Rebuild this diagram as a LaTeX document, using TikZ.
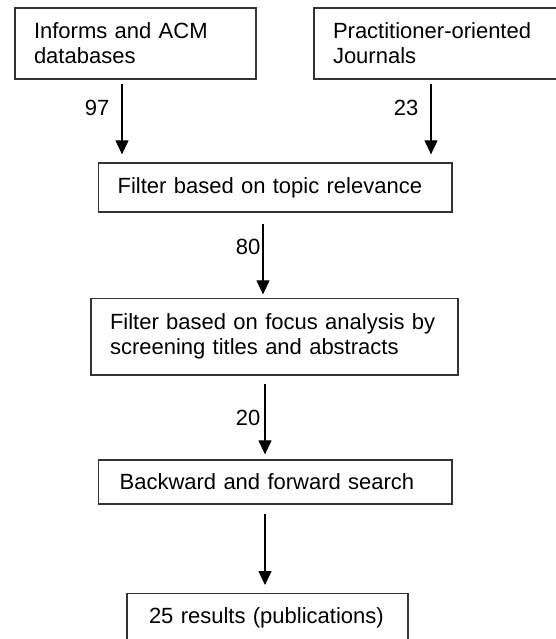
\documentclass[tikz,border=0pt]{standalone}
\usepackage{fontspec}
\setmainfont{Liberation Sans}
\usetikzlibrary{arrows.meta}
\begin{document}
\begin{tikzpicture}[x=1pt,y=-1pt,
  box/.style={draw=black!80, line width=1.3pt, rectangle, inner xsep=19pt, inner ysep=0pt,
    align=left, font=\fontsize{22}{25}\selectfont},
  arr/.style={line width=1.2pt, -{Triangle[width=13pt,length=14pt]}},
  num/.style={font=\fontsize{22}{25}\selectfont, inner sep=0pt, anchor=east}]
\useasboundingbox (0,0) rectangle (556,639);
\node[box, text width=203pt, minimum height=71pt] (b1) at (135.5,43.5) {Informs and ACM\\databases};
\node[box, text width=212pt, minimum height=71pt] (b2) at (439,43.5) {Practitioner-oriented\\Journals};
\node[box, text width=315.4pt, minimum height=49pt] (b3) at (275.3,187.5) {Filter based on topic relevance};
\node[box, text width=329pt, minimum height=76.5pt] (b4) at (274.5,336.75) {Filter based on focus analysis by\\screening titles and abstracts};
\node[box, inner xsep=21pt, text width=311.4pt, minimum height=44pt] (b5) at (275.3,482) {Backward and forward search};
\node[box, inner xsep=22pt, text width=237pt, minimum height=60pt, text height=16pt, text depth=16pt, anchor=north] (b6) at (267.5,593) {25 results (publications)};
\coordinate (c1) at (122,0);
\coordinate (c2) at (431,0);
\coordinate (c3) at (263,0);
\coordinate (c4) at (265,0);
\draw[arr, shorten <=4pt, shorten >=8pt] (b1.south -| c1) -- node[num, pos=0.345, xshift=-12pt] {97} (b3.north -| c1);
\draw[arr, shorten <=4pt, shorten >=8pt] (b2.south -| c2) -- node[num, pos=0.345, xshift=-12pt] {23} (b3.north -| c2);
\draw[arr, shorten <=11pt, shorten >=3.5pt] (b3.south -| c3) -- node[num, pos=0.405, xshift=-2pt] {80} (b4.north -| c3);
\draw[arr, shorten <=8pt, shorten >=5pt] (b4.south -| c4) -- node[num, pos=0.506, xshift=-4pt] {20} (b5.north -| c4);
\draw[arr, shorten <=9pt, shorten >=8pt] (b5.south -| c4) -- (b6.north -| c4);
\end{tikzpicture}
\end{document}
